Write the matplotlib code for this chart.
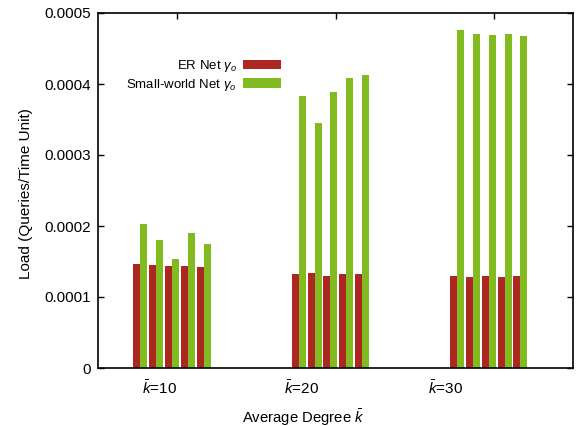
import matplotlib
matplotlib.use("Agg")
import matplotlib.pyplot as plt
import matplotlib.transforms as mtransforms
import numpy as np

plt.rcParams['font.family'] = ['Liberation Sans', 'DejaVu Sans']
plt.rcParams['mathtext.fontset'] = 'custom'
plt.rcParams['mathtext.rm'] = 'Liberation Sans'
plt.rcParams['mathtext.it'] = 'Liberation Sans:italic'

# categories (average degree)
groups = ['k10', 'k20', 'k30']
tick_labels = [r'$\bar{k}$=10', r'$\bar{k}$=20', r'$\bar{k}$=30']

# load per run, ER network
er_k10 = [1.465e-4, 1.445e-4, 1.43e-4, 1.43e-4, 1.42e-4]
er_k20 = [1.32e-4, 1.338e-4, 1.296e-4, 1.328e-4, 1.324e-4]
er_k30 = [1.296e-4, 1.286e-4, 1.296e-4, 1.277e-4, 1.296e-4]

# load per run, small-world network
sw_k10 = [2.024e-4, 1.80e-4, 1.53e-4, 1.90e-4, 1.745e-4]
sw_k20 = [3.835e-4, 3.455e-4, 3.887e-4, 4.085e-4, 4.127e-4]
sw_k30 = [4.76e-4, 4.71e-4, 4.69e-4, 4.70e-4, 4.67e-4]

er_vals = [er_k10, er_k20, er_k30]
sw_vals = [sw_k10, sw_k20, sw_k30]

red = '#ad2621'
green = '#82bb20'

fig = plt.figure(figsize=(5.8, 4.26), dpi=100)
ax = fig.add_axes([98 / 580, 58 / 426, 475 / 580, 355 / 426])

# bar geometry in units of the group spacing
w = 7 / 158
stride = 15.8 / 158
start = -40.2 / 158

for g in range(len(groups)):
    n = len(er_vals[g])
    xs = g + start + stride * np.arange(n)
    ax.bar(xs, er_vals[g], width=w, color=red, linewidth=0,
           label=r'ER Net $\gamma_o$' if g == 0 else None)
    ax.bar(xs + w, sw_vals[g], width=w, color=green, linewidth=0,
           label=r'Small-world Net $\gamma_o$' if g == 0 else None)

ax.set_xlim(-0.5, 2.5)
ax.set_ylim(0, 0.0005)
ax.set_yticks([0, 0.0001, 0.0002, 0.0003, 0.0004, 0.0005])
ax.set_yticklabels(['0', '0.0001', '0.0002', '0.0003', '0.0004', '0.0005'])
ax.set_xticks(range(len(groups)))
ax.set_xticklabels(tick_labels)

ax.tick_params(axis='both', direction='in', length=4, width=1, labelsize=11,
               top=True, right=True, pad=5)
ax.tick_params(axis='x', bottom=False, pad=8)

# the tick labels sit left of the ticks in the reference
for lbl, dx in zip(ax.get_xticklabels(), [-17.7, -33.7, -48.3]):
    lbl.set_transform(lbl.get_transform() +
                      mtransforms.ScaledTranslation(dx / 100, 0, fig.dpi_scale_trans))

for s in ax.spines.values():
    s.set_linewidth(1.2)

ax.set_xlabel(r'Average Degree $\bar{k}$', fontsize=10.7)
ax.xaxis.set_label_coords(0.433, -0.109)
ax.set_ylabel('Load (Queries/Time Unit)', fontsize=11)
ax.yaxis.set_label_coords(-0.137, 0.49)

ax.legend(loc='upper right', bbox_to_anchor=(0.385, 0.874), frameon=False,
          markerfirst=False, fontsize=9.5, borderpad=0, borderaxespad=0,
          handlelength=2.9, handleheight=0.68, handletextpad=0.45,
          labelspacing=0.22)

fig.savefig('out.png', dpi=100)
